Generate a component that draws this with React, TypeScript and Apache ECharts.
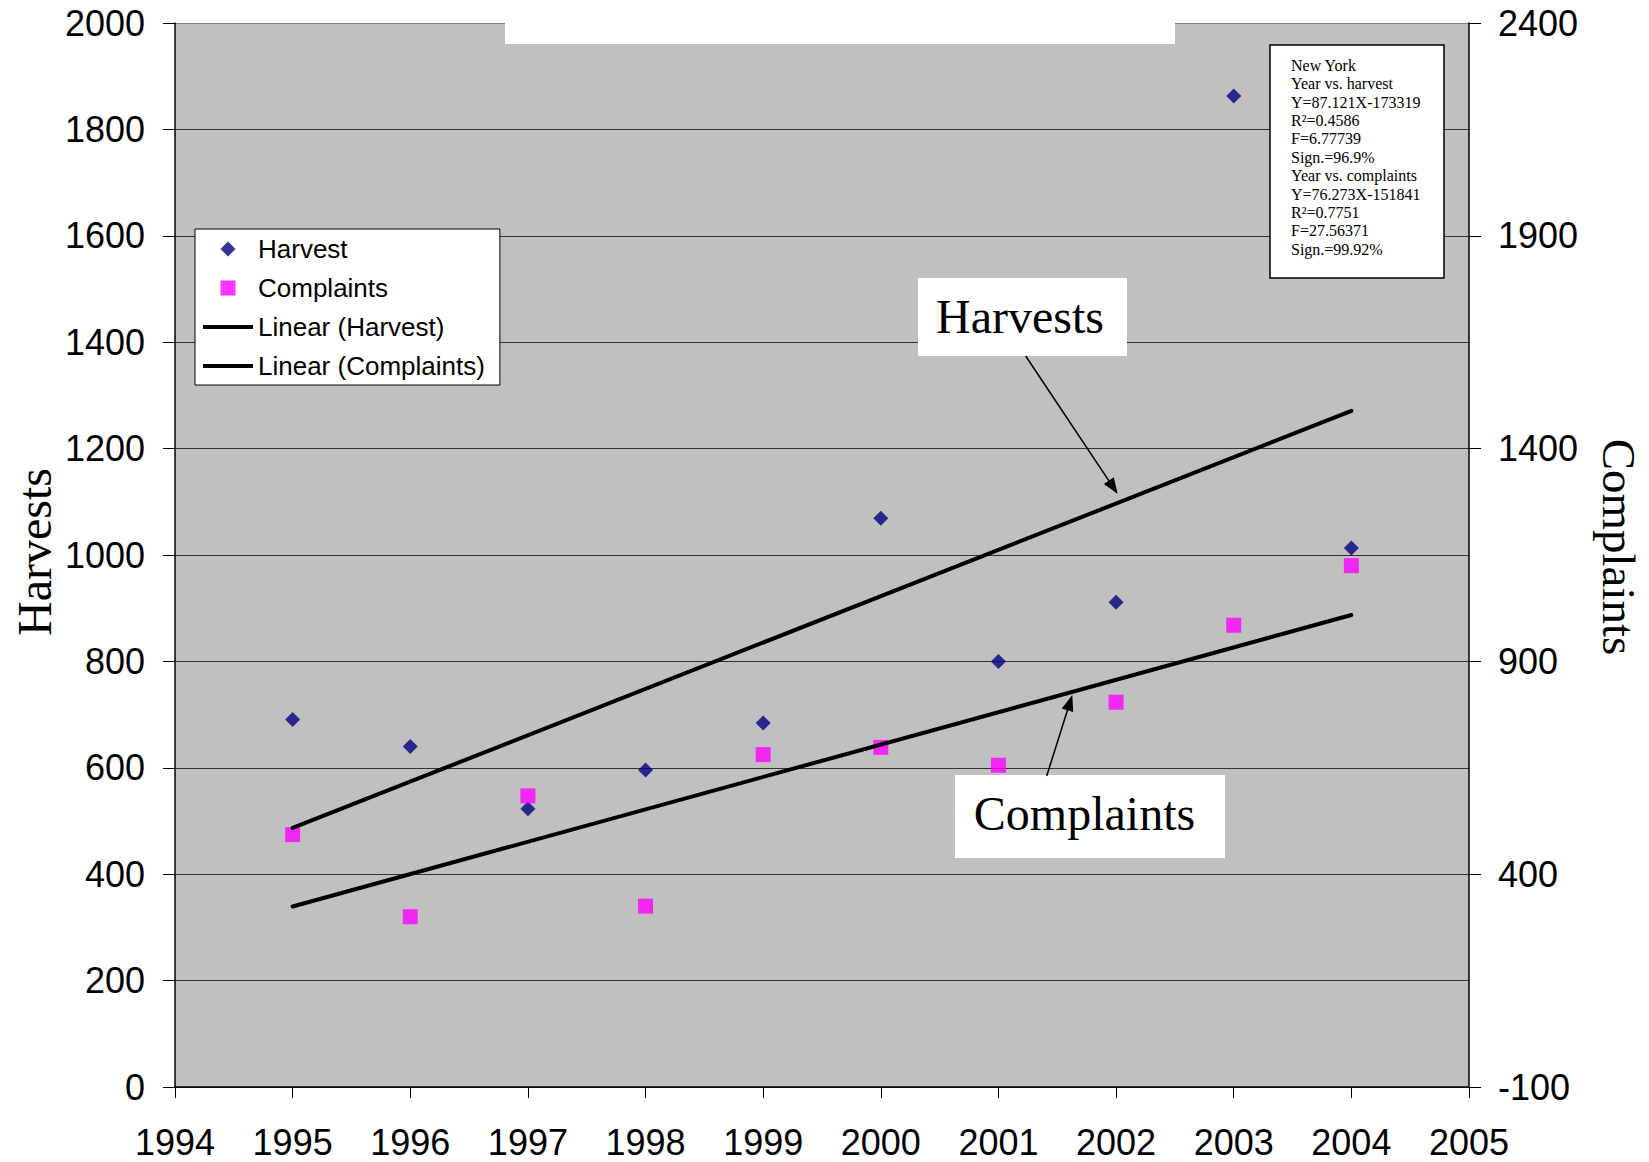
import React, { useEffect, useRef } from "react";
import * as echarts from "echarts";

// ---- data ----
const years = [1995, 1996, 1997, 1998, 1999, 2000, 2001, 2002, 2003, 2004];
const harvest = [691, 640, 523, 596, 684, 1069, 800, 911, 1863, 1013];
const complaints = [493, 300, 584, 325, 681, 698, 656, 804, 985, 1125];
const trendYears = [1995, 2004];
const harvestTrend = [487, 1271];
const complaintsTrend = [324, 1009];

const xMin = 1994;
const xMax = 2005;
const xStep = 1;
const leftMin = 0;
const leftMax = 2000;
const leftStep = 200;
const rightMin = -100;
const rightMax = 2400;
const rightStep = 500;

const seriesNames = ["Harvest", "Complaints", "Linear (Harvest)", "Linear (Complaints)"];
const leftAxisName = "Harvests";
const rightAxisName = "Complaints";
const statsLines = [
  "New York",
  "Year vs. harvest",
  "Y=87.121X-173319",
  "R²=0.4586",
  "F=6.77739",
  "Sign.=96.9%",
  "Year vs. complaints",
  "Y=76.273X-151841",
  "R²=0.7751",
  "F=27.56371",
  "Sign.=99.92%",
];

const SANS = "'Liberation Sans', Arial, sans-serif";
const SERIF = "'Liberation Serif', 'Times New Roman', serif";

const ICON_DIAMOND = "path://M0,-1L1,0L0,1L-1,0Z";
const ICON_SQUARE = "path://M0,0L1,0L1,1L0,1Z";
const ICON_LINE = "path://M0,0L50,0L50,4L0,4Z";

function arrow(x1: number, y1: number, x2: number, y2: number) {
  const dx = x2 - x1;
  const dy = y2 - y1;
  const len = Math.hypot(dx, dy);
  const ux = dx / len;
  const uy = dy / len;
  const hl = 16;
  const hw = 6;
  const bx = x2 - ux * hl;
  const by = y2 - uy * hl;
  return [
    {
      type: "line",
      z: 100,
      shape: { x1, y1, x2: bx + ux * 2, y2: by + uy * 2 },
      style: { stroke: "#000", lineWidth: 1.5 },
    },
    {
      type: "polygon",
      z: 100,
      shape: {
        points: [
          [x2, y2],
          [bx - uy * hw, by + ux * hw],
          [bx + uy * hw, by - ux * hw],
        ],
      },
      style: { fill: "#000" },
    },
  ];
}

export default function App() {
  const ref = useRef<HTMLDivElement>(null);

  useEffect(() => {
    if (!ref.current) return;
    const chart = echarts.init(ref.current, undefined, { renderer: "svg" });

    const splitColors: string[] = [];
    for (let v = leftMin; v <= leftMax; v += leftStep) {
      splitColors.push(v === leftMax ? "#808080" : "#333333");
    }

    const option: any = {
      animation: false,
      backgroundColor: "#ffffff",
      grid: {
        left: 175,
        right: 180,
        top: 23,
        bottom: 75,
        show: true,
        backgroundColor: "#C0C0C0",
        borderWidth: 0,
        containLabel: false,
      },
      legend: {
        show: true,
        orient: "vertical",
        left: 195,
        top: 229,
        padding: [7, 15, 6, 8],
        itemGap: 13,
        itemWidth: 50,
        itemHeight: 15,
        symbolKeepAspect: true,
        backgroundColor: "#ffffff",
        borderColor: "#000000",
        borderWidth: 1,
        borderRadius: 0,
        textStyle: { fontFamily: SANS, fontSize: 26, color: "#000", lineHeight: 26 },
        data: [
          { name: seriesNames[0], icon: ICON_DIAMOND, itemStyle: { color: "#000080", borderWidth: 0 } },
          { name: seriesNames[1], icon: ICON_SQUARE, itemStyle: { color: "#FF00FF", borderWidth: 0 } },
          { name: seriesNames[2], icon: ICON_LINE, itemStyle: { color: "#000", borderWidth: 0 } },
          { name: seriesNames[3], icon: ICON_LINE, itemStyle: { color: "#000", borderWidth: 0 } },
        ],
      },
      xAxis: {
        type: "value",
        min: xMin,
        max: xMax,
        interval: xStep,
        splitLine: { show: false },
        axisLine: { show: true, onZero: false, lineStyle: { color: "#000", width: 1.5 } },
        axisTick: { show: true, inside: false, length: 11, lineStyle: { color: "#000", width: 1 } },
        axisLabel: {
          margin: 37,
          fontFamily: SANS,
          fontSize: 36,
          color: "#000",
          formatter: (v: number) => String(v),
        },
      },
      yAxis: [
        {
          type: "value",
          position: "left",
          min: leftMin,
          max: leftMax,
          interval: leftStep,
          splitLine: { show: true, lineStyle: { color: splitColors, width: 1 } },
          axisLine: { show: true, onZero: false, lineStyle: { color: "#000", width: 1.5 } },
          axisTick: { show: true, inside: false, length: 12, lineStyle: { color: "#000", width: 1 } },
          axisLabel: {
            margin: 30,
            fontFamily: SANS,
            fontSize: 36,
            color: "#000",
            formatter: (v: number) => String(v),
          },
        },
        {
          type: "value",
          position: "right",
          min: rightMin,
          max: rightMax,
          interval: rightStep,
          splitLine: { show: false },
          axisLine: { show: true, onZero: false, lineStyle: { color: "#000", width: 1.5 } },
          axisTick: { show: true, inside: false, length: 12, lineStyle: { color: "#000", width: 1 } },
          axisLabel: {
            margin: 29,
            fontFamily: SANS,
            fontSize: 36,
            color: "#000",
            formatter: (v: number) => String(v),
          },
        },
      ],
      series: [
        {
          name: seriesNames[0],
          type: "scatter",
          yAxisIndex: 0,
          symbol: "diamond",
          symbolSize: 15,
          itemStyle: { color: "#000080" },
          data: years.map((y, i) => [y, harvest[i]]),
        },
        {
          name: seriesNames[1],
          type: "scatter",
          yAxisIndex: 1,
          symbol: "rect",
          symbolSize: 15,
          itemStyle: { color: "#FF00FF" },
          data: years.map((y, i) => [y, complaints[i]]),
        },
        {
          name: seriesNames[2],
          type: "line",
          yAxisIndex: 0,
          symbol: "none",
          showSymbol: false,
          lineStyle: { color: "#000", width: 4, cap: "round" },
          itemStyle: { color: "#000" },
          data: trendYears.map((y, i) => [y, harvestTrend[i]]),
        },
        {
          name: seriesNames[3],
          type: "line",
          yAxisIndex: 1,
          symbol: "none",
          showSymbol: false,
          lineStyle: { color: "#000", width: 4, cap: "round" },
          itemStyle: { color: "#000" },
          data: trendYears.map((y, i) => [y, complaintsTrend[i]]),
        },
      ],
      graphic: [
        // white title band at the top
        {
          type: "rect",
          z: 100,
          shape: { x: 505, y: 0, width: 670, height: 44 },
          style: { fill: "#ffffff" },
        },
        // axis names
        {
          type: "text",
          z: 100,
          x: 34,
          y: 552,
          rotation: Math.PI / 2,
          style: {
            text: leftAxisName,
            fontFamily: SERIF,
            fontSize: 48,
            fill: "#000",
            align: "center",
            verticalAlign: "middle",
          },
        },
        {
          type: "text",
          z: 100,
          x: 1619,
          y: 547,
          rotation: -Math.PI / 2,
          style: {
            text: rightAxisName,
            fontFamily: SERIF,
            fontSize: 47,
            fill: "#000",
            align: "center",
            verticalAlign: "middle",
          },
        },
        // stats box
        {
          type: "rect",
          z: 100,
          shape: { x: 1270, y: 45, width: 174, height: 233 },
          style: { fill: "#ffffff", stroke: "#000", lineWidth: 1.5 },
        },
        {
          type: "text",
          z: 101,
          x: 1291,
          y: 56,
          style: {
            text: statsLines.join("\n"),
            fontFamily: SERIF,
            fontSize: 16,
            lineHeight: 18.4,
            fill: "#000",
            align: "left",
            verticalAlign: "top",
          },
        },
        // annotation: Harvests
        {
          type: "rect",
          z: 100,
          shape: { x: 918, y: 278, width: 209, height: 78 },
          style: { fill: "#ffffff" },
        },
        {
          type: "text",
          z: 101,
          x: 1020,
          y: 316,
          style: {
            text: "Harvests",
            fontFamily: SERIF,
            fontSize: 48,
            fill: "#000",
            align: "center",
            verticalAlign: "middle",
          },
        },
        ...arrow(1025.7, 356, 1117.7, 494),
        // annotation: Complaints
        {
          type: "rect",
          z: 100,
          shape: { x: 955, y: 775, width: 270, height: 83 },
          style: { fill: "#ffffff" },
        },
        {
          type: "text",
          z: 101,
          x: 1084.5,
          y: 813,
          style: {
            text: "Complaints",
            fontFamily: SERIF,
            fontSize: 48,
            fill: "#000",
            align: "center",
            verticalAlign: "middle",
          },
        },
        ...arrow(1046.7, 776, 1072.3, 695),
      ],
    };

    chart.setOption(option);
    return () => {
      chart.dispose();
    };
  }, []);

  return (
    <div
      ref={ref}
      style={{
        position: "fixed",
        left: 0,
        top: 0,
        width: 1649,
        height: 1162,
        background: "#ffffff",
      }}
    />
  );
}
